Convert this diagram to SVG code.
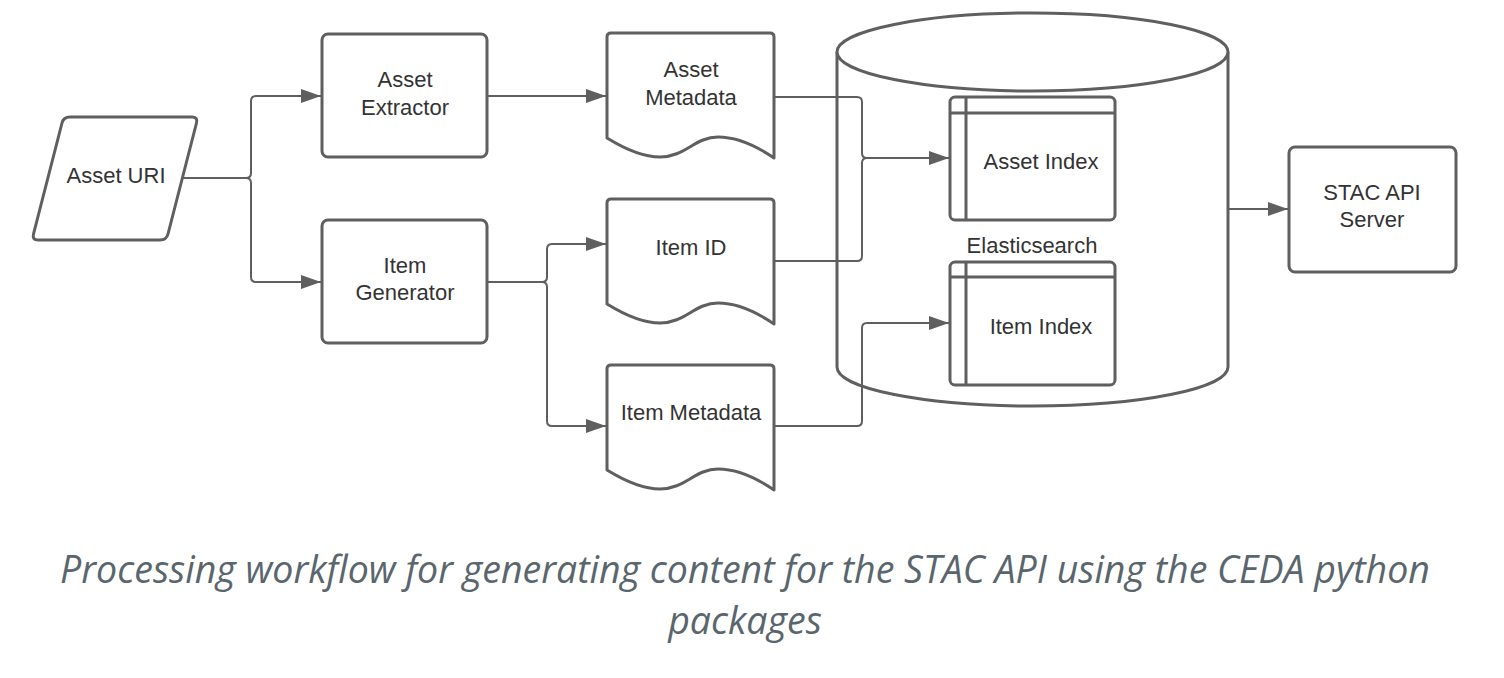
<svg xmlns="http://www.w3.org/2000/svg" width="1504" height="678" viewBox="0 0 1504 678">
<style>
.shape{fill:#fff;stroke:#5f5f5f;stroke-width:3;stroke-linejoin:round}
.inner{fill:none;stroke:#5f5f5f;stroke-width:3}
.conn{fill:none;stroke:#5f5f5f;stroke-width:2}
.lbl{font-family:"Liberation Sans",Arial,sans-serif;font-size:22px;fill:#333;text-anchor:middle}
.cap{font-family:"Open Sans",sans-serif;font-style:italic;font-size:37.5px;fill:#5a666e;text-anchor:middle}
</style>
<defs>
<marker id="arr" markerUnits="userSpaceOnUse" markerWidth="22" markerHeight="16" refX="20" refY="8" orient="auto">
<path d="M0,1 L20,8 L0,15 Z" fill="#5f5f5f"/>
</marker>
<path id="doc" d="M0,105 V4 Q0,0 4,0 H163 Q167,0 167,4 V125 C148,112 128,104 111,104 C88,104 78,124 53,124 C33,124 13,113 0,105 Z"/>
</defs>
<rect width="1504" height="678" fill="#fff"/>

<g id="elasticsearch">
<path class="shape" d="M837,52 V367 A195.5,39 0 0 0 1228,367 V52"/>
<ellipse class="shape" cx="1032.5" cy="52" rx="195.5" ry="39"/>
<text class="lbl" x="1032" y="253">Elasticsearch</text>
</g>

<g id="asset-uri">
<path class="shape" d="M70,117 H192 Q198,117 196.5,123 L168,234 Q166.5,240 160,240 H38 Q32,240 33.5,234 L62,123 Q63.5,117 70,117 Z"/>
<text class="lbl" x="116" y="183">Asset URI</text>
</g>

<g id="asset-extractor">
<rect class="shape" x="322" y="34" width="165" height="123" rx="6"/>
<text class="lbl" x="405" y="87">Asset</text>
<text class="lbl" x="405" y="115">Extractor</text>
</g>

<g id="item-generator">
<rect class="shape" x="322" y="220" width="165" height="123" rx="6"/>
<text class="lbl" x="405" y="273">Item</text>
<text class="lbl" x="405" y="300">Generator</text>
</g>

<g id="asset-metadata">
<use href="#doc" class="shape" transform="translate(607,33)"/>
<text class="lbl" x="691" y="77">Asset</text>
<text class="lbl" x="691" y="105">Metadata</text>
</g>

<g id="item-id">
<use href="#doc" class="shape" transform="translate(607,199)"/>
<text class="lbl" x="691" y="255">Item ID</text>
</g>

<g id="item-metadata">
<use href="#doc" class="shape" transform="translate(607,365)"/>
<text class="lbl" x="691" y="420">Item Metadata</text>
</g>

<g id="asset-index">
<rect class="shape" x="950" y="97" width="165" height="123" rx="5"/>
<line class="inner" x1="966" y1="97" x2="966" y2="220"/>
<line class="inner" x1="950" y1="113" x2="1115" y2="113"/>
<text class="lbl" x="1041" y="169">Asset Index</text>
</g>

<g id="item-index">
<rect class="shape" x="950" y="262" width="165" height="123" rx="5"/>
<line class="inner" x1="966" y1="262" x2="966" y2="385"/>
<line class="inner" x1="950" y1="277" x2="1115" y2="277"/>
<text class="lbl" x="1041" y="334">Item Index</text>
</g>

<g id="stac-api-server">
<rect class="shape" x="1289" y="147" width="167" height="125" rx="6"/>
<text class="lbl" x="1372" y="200">STAC API</text>
<text class="lbl" x="1372" y="227">Server</text>
</g>

<g id="connectors">
<path class="conn" marker-end="url(#arr)" d="M183,178 H246 Q251,178 251,173 V101 Q251,96 256,96 H321"/>
<path class="conn" marker-end="url(#arr)" d="M246,178 Q251,178 251,183 V277 Q251,282 256,282 H321"/>
<path class="conn" marker-end="url(#arr)" d="M487,96 H606"/>
<path class="conn" marker-end="url(#arr)" d="M487,282 H542 Q547,282 547,277 V249 Q547,244 552,244 H606"/>
<path class="conn" marker-end="url(#arr)" d="M542,282 Q547,282 547,287 V421 Q547,426 552,426 H606"/>
<path class="conn" marker-end="url(#arr)" d="M774,97 H857 Q862,97 862,102 V153 Q862,158 867,158 H949"/>
<path class="conn" d="M774,261 H857 Q862,261 862,256 V163 Q862,158 867,158"/>
<path class="conn" marker-end="url(#arr)" d="M774,426 H857 Q862,426 862,421 V328 Q862,323 867,323 H949"/>
<path class="conn" marker-end="url(#arr)" d="M1228,209 H1288"/>
</g>

<g id="caption">
<text class="cap" x="745" y="583">Processing workflow for generating content for the STAC API using the CEDA python</text>
<text class="cap" x="745" y="634">packages</text>
</g>
</svg>
